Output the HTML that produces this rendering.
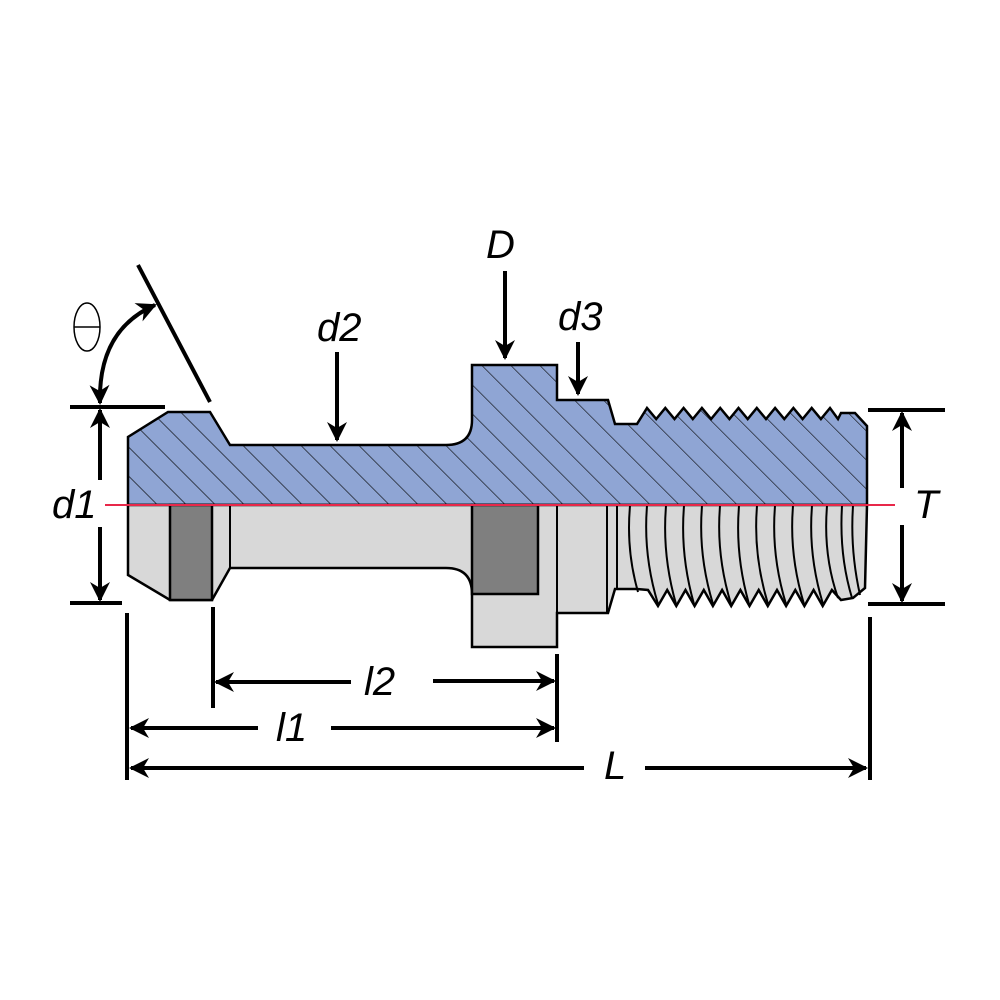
<!DOCTYPE html>
<html><head><meta charset="utf-8"><style>
html,body{margin:0;padding:0;background:#fff}
svg{display:block}
text{font-family:"Liberation Sans","DejaVu Sans",sans-serif;font-style:italic;font-size:40px;fill:#000}
</style></head><body>
<svg width="1000" height="1000" viewBox="0 0 1000 1000" xmlns="http://www.w3.org/2000/svg">
<defs>
<pattern id="h" patternUnits="userSpaceOnUse" width="20.5" height="20.5" patternTransform="rotate(-45)">
<rect width="20.5" height="20.5" fill="#8fa5d4"/>
<line x1="0" y1="0" x2="0" y2="20.5" stroke="#000" stroke-width="1.2"/>
</pattern>
<marker id="a" viewBox="0 0 10 10" refX="9" refY="5" markerWidth="5" markerHeight="5" orient="auto-start-reverse" markerUnits="strokeWidth">
<path d="M0,0 L10,5 L0,10 L3,5 z" fill="#000"/>
</marker>
</defs>

<path d="M128,505 L128,437 L168,412 L210,412 L230,445 L446,445 Q472,445 472,420 L472,365 L557,365 L557,400 L608,400 L615,424 L637,424
L647,408 L656.2,419 L665.3,408 L674.5,419 L683.6,408 L692.8,419 L701.9,408 L711.1,419 L720.2,408 L729.4,419 L738.5,408 L747.7,419 L756.8,408 L766,419 L775.1,408 L784.3,419 L793.4,408 L802.6,419 L811.7,408 L820.9,419 L830,408 L838,419 L841,413 L855,413 L867,426 L867,505 Z" fill="url(#h)" stroke="#000" stroke-width="2.5"/>

<path d="M128,505 L128,575 L170,600 L212,600 L230,568 L446,568 Q472,568 472,594 L472,647 L557,647 L557,613 L608,613 L615,589 L637,589
L648,590 L658,606 L667.2,590 L676.3,606 L685.5,590 L694.6,606 L703.8,590 L712.9,606 L722.1,590 L731.2,606 L740.4,590 L749.5,606 L758.7,590 L767.8,606 L777,590 L786.1,606 L795.3,590 L804.4,606 L813.6,590 L822.7,606 L831.9,590 L841,600 L853,598 L865,588 L867,505 Z" fill="#d8d8d8" stroke="#000" stroke-width="2.5"/>

<rect x="170" y="505" width="42" height="95" fill="#7f7f7f" stroke="#000" stroke-width="2.5"/>
<rect x="472" y="505" width="66" height="89" fill="#7f7f7f" stroke="#000" stroke-width="2.5"/>
<g stroke="#000" stroke-width="2" fill="none">
<line x1="230" y1="505" x2="230" y2="568"/>
<line x1="557" y1="505" x2="557" y2="613"/>
<line x1="607" y1="505" x2="607" y2="613"/>
<line x1="617" y1="505" x2="617" y2="589"/>
<path d="M630,506 Q626,550 638,592"/>
<path d="M647,506 Q643,555 658,604"/>
<path d="M666,506 Q662,555 676,604"/>
<path d="M684,506 Q680,555 694,604"/>
<path d="M702,506 Q698,555 713,604"/>
<path d="M720,506 Q716,555 731,604"/>
<path d="M739,506 Q735,555 749,604"/>
<path d="M757,506 Q753,555 768,604"/>
<path d="M775,506 Q771,555 786,604"/>
<path d="M793,506 Q789,555 804,604"/>
<path d="M812,506 Q808,555 823,604"/>
<path d="M827,506 Q823,555 838,598"/>
<path d="M842,506 Q839,555 852,598"/>
<path d="M853,506 Q850,550 860,595"/>
</g>

<line x1="105" y1="505" x2="895" y2="505" stroke="#e8284a" stroke-width="2"/>

<g stroke="#000" stroke-width="4" fill="none">
<line x1="70" y1="407" x2="165" y2="407"/>
<line x1="70" y1="603" x2="122" y2="603"/>
<line x1="100" y1="410" x2="100" y2="480" marker-start="url(#a)"/>
<line x1="100" y1="527" x2="100" y2="600" marker-end="url(#a)"/>
<line x1="138" y1="265" x2="210" y2="402"/>
<path d="M100,403 Q98,330 155,305" marker-start="url(#a)" marker-end="url(#a)"/>
<line x1="505" y1="271" x2="505" y2="358" marker-end="url(#a)"/>
<line x1="337" y1="352" x2="337" y2="440" marker-end="url(#a)"/>
<line x1="578" y1="342" x2="578" y2="394" marker-end="url(#a)"/>
<line x1="868" y1="410" x2="945" y2="410"/>
<line x1="868" y1="604" x2="945" y2="604"/>
<line x1="902" y1="413" x2="902" y2="488" marker-start="url(#a)"/>
<line x1="902" y1="525" x2="902" y2="601" marker-end="url(#a)"/>
<line x1="127" y1="613" x2="127" y2="780"/>
<line x1="213" y1="607" x2="213" y2="708"/>
<line x1="557" y1="654" x2="557" y2="742"/>
<line x1="870" y1="617" x2="870" y2="780"/>
<line x1="216" y1="682" x2="351" y2="682" marker-start="url(#a)"/>
<line x1="433" y1="681" x2="554" y2="681" marker-end="url(#a)"/>
<line x1="131" y1="728" x2="258" y2="728" marker-start="url(#a)"/>
<line x1="331" y1="728" x2="554" y2="728" marker-end="url(#a)"/>
<line x1="131" y1="768" x2="584" y2="768" marker-start="url(#a)"/>
<line x1="645" y1="768" x2="866" y2="768" marker-end="url(#a)"/>
</g>
<ellipse cx="87" cy="327" rx="13" ry="24" fill="none" stroke="#000" stroke-width="1.5"/>
<line x1="74" y1="327" x2="100" y2="327" stroke="#000" stroke-width="1.5"/>

<text x="52" y="518">d1</text>
<text x="486" y="258">D</text>
<text x="317" y="341">d2</text>
<text x="558" y="330">d3</text>
<text x="914" y="518">T</text>
<text x="364" y="695">l2</text>
<text x="276" y="741">l1</text>
<text x="604" y="779">L</text>
</svg>
</body></html>
